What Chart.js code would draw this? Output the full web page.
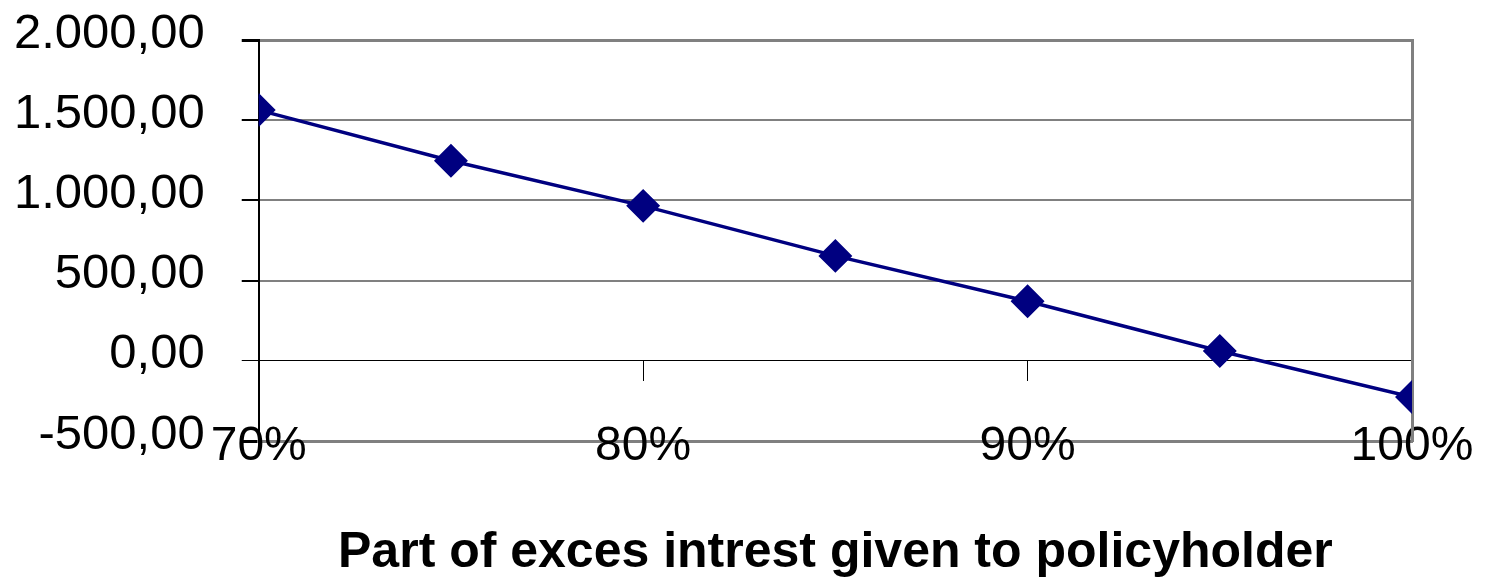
<!DOCTYPE html>
<html>
<head>
<meta charset="utf-8">
<script src="https://cdn.jsdelivr.net/npm/chart.js@4.4.1/dist/chart.umd.min.js"></script>
<style>
  html, body { margin: 0; padding: 0; background: #fff; }
  #wrap { width: 1491px; height: 578px; }
</style>
</head>
<body>
<div id="wrap"><canvas id="chart"></canvas></div>
<script>
// ── Data ──────────────────────────────────────────────────────
const shares  = [0.70, 0.75, 0.80, 0.85, 0.90, 0.95, 1.00];
const results = [1563, 1247, 966, 654, 371, 61, -226];
const yTicks  = [-500, 0, 500, 1000, 1500, 2000];
const xTitle  = 'Part of exces intrest given to policyholder';

const FONT = "'Liberation Sans', Arial, sans-serif";
const NAVY = '#000080';
const GRAY = '#808080';

const fmt = v => v.toLocaleString('de-DE', { minimumFractionDigits: 2, maximumFractionDigits: 2 });

// labels may overflow the plot edges freely, like the original
const noOverflowPadding = s => { s.paddingTop = 0; s.paddingBottom = 0; s.paddingLeft = 0; s.paddingRight = 0; };

const ctx = document.getElementById('chart').getContext('2d');
new Chart(ctx, {
  type: 'line',
  data: {
    datasets: [{
      data: shares.map((x, i) => ({ x, y: results[i] })),
      borderColor: NAVY,
      backgroundColor: NAVY,
      borderWidth: 3.5,
      pointStyle: 'rectRot',
      pointRadius: 14.5,
      pointHoverRadius: 14.5,
      tension: 0,
    }],
  },
  options: {
    responsive: true,
    maintainAspectRatio: false,
    animation: false,
    layout: { padding: { left: -23, right: 79, top: 40, bottom: 0 } },
    plugins: { legend: { display: false }, tooltip: { enabled: false } },
    scales: {
      x: {
        type: 'linear',
        min: 0.7, max: 1.0,
        afterFit: noOverflowPadding,
        border: { color: GRAY, width: 3 },
        grid: { drawOnChartArea: false, drawTicks: false },
        ticks: {
          stepSize: 0.1,
          mirror: true,          // no clipping where labels overlap the plot edge
          padding: -34.5,
          color: '#000',
          font: { family: FONT, size: 48 },
          callback: v => Math.round(v * 100) + '%',
        },
        title: {
          display: true,
          text: xTitle,
          color: '#000',
          font: { family: FONT, size: 50, weight: 'bold' },
          padding: { top: 151, bottom: -5 },
        },
      },
      xZero: {
        type: 'linear',
        axis: 'x',
        min: 0.7, max: 1.0,
        position: { y: 0 },
        afterFit: noOverflowPadding,
        border: { color: '#000', width: 1 },
        grid: { drawOnChartArea: false, tickLength: 20, color: '#000' },
        ticks: { stepSize: 0.1, display: false },
      },
      y: {
        min: -500, max: 2000,
        afterBuildTicks: s => { s.ticks = yTicks.map(value => ({ value })); },
        afterFit: noOverflowPadding,
        border: { color: '#000', width: 2 },
        grid: {
          tickLength: 17,
          tickColor: '#000',
          color: c => c.tick && c.tick.value === 0 ? '#000' : GRAY,
          lineWidth: c => (c.tick && (c.tick.value === 2000 || c.tick.value === -500)) ? 3 : (c.tick && c.tick.value === 0 ? 1 : 2),
        },
        ticks: {
          padding: 37,
          labelOffset: -6,
          color: '#000',
          font: { family: FONT, size: 49 },
          callback: v => fmt(v),
        },
      },
      yRight: {
        position: 'right',
        min: -500, max: 2000,
        afterFit: noOverflowPadding,
        border: { color: GRAY, width: 3 },
        grid: { drawOnChartArea: false, drawTicks: false },
        ticks: { display: false },
      },
    },
  },
});
</script>
</body>
</html>
